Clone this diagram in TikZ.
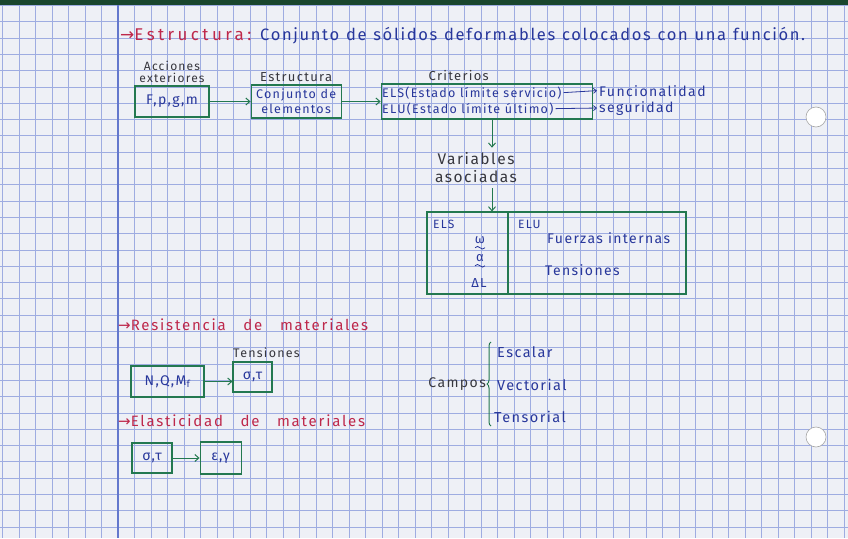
\documentclass[tikz,border=0pt]{standalone}
\usepackage{fontspec}
\setmainfont{Fira Sans}[LetterSpace=10]
\newfontfamily\arrowfont{DejaVu Sans}
\usetikzlibrary{arrows.meta, positioning, decorations.pathreplacing}
\definecolor{paper}{RGB}{238,240,246}
\definecolor{gridline}{RGB}{158,172,225}
\definecolor{margin}{RGB}{100,120,205}
\definecolor{boxgreen}{RGB}{35,120,80}
\definecolor{penblue}{RGB}{40,55,155}
\definecolor{penred}{RGB}{190,40,75}
\definecolor{pencil}{RGB}{55,55,62}
\definecolor{band}{RGB}{25,70,45}
\tikzset{
  box/.style  = {rectangle, draw=boxgreen, line width=1.1pt, text=penblue,
                 align=center, inner sep=1pt, font=\fontsize{14}{15.5}\selectfont},
  flow/.style = {-{Straight Barb[length=4pt,width=7pt]}, draw=boxgreen, line width=1pt},
  tick/.style = {-{Straight Barb[length=3pt,width=5pt]}, draw=penblue, line width=0.8pt},
  lbl/.style  = {text=pencil, align=center, inner sep=0pt, font=\fontsize{12}{12}\selectfont},
  pen/.style  = {text=penblue, align=center, inner sep=0pt, font=\fontsize{14}{15}\selectfont},
  head/.style = {text=penred, inner sep=0pt, font=\fontsize{15}{17}\selectfont\addfontfeature{LetterSpace=12}},
  squig/.style = {draw=penblue, line width=0.8pt},
  hole/.style = {circle, minimum size=20pt, fill=white, draw=black!35, line width=0.6pt},
}
\begin{document}
\begin{tikzpicture}[x=1pt, y=-1pt]
  \fill[paper] (0,0) rectangle (848,538);
  \useasboundingbox (0,0) rectangle (848,538);
  \foreach \gx in {2.5,19,...,848} \draw[gridline, line width=0.7pt] (\gx,0) -- (\gx,538);
  \foreach \gy in {5.4,21.7,...,538} \draw[gridline, line width=0.7pt] (0,\gy) -- (848,\gy);
  \draw[margin, line width=1.2pt] (118,0) -- (118,538);
  \fill[band] (0,0) rectangle (848,5);
  \node[hole] (hole1) at (816,117) {};
  \node[hole] (hole2) at (816,437) {};

  \node[head, font=\fontsize{17}{19}\selectfont\addfontfeature{LetterSpace=20}, anchor=base west] (ttl) at (120,40) {{\arrowfont→}Estructura:};
  \node[pen, font=\fontsize{16.5}{19}\selectfont, anchor=base west] (def) at (260,40)
    {\makebox[545pt][s]{Conjunto de sólidos deformables colocados con una función.}};

  \node[box, minimum width=74pt, minimum height=31pt] (load) at (172,101.5) {F,p,g,m};
  \node[box, font=\fontsize{12.5}{15}\selectfont, minimum width=90pt, minimum height=33pt, right=41pt of load] (struct) {Conjunto de\\elementos};
  \node[box, minimum width=211pt, minimum height=35pt, right=39pt of struct] (crit) {};
  \node[lbl, above=3pt of load] (acc) {Acciones\\exteriores};
  \node[lbl, font=\fontsize{13}{13}\selectfont, above=3pt of struct] (structlbl) {Estructura};
  \node[lbl, font=\fontsize{13}{13}\selectfont, above=3pt of crit, xshift=-28pt] (critlbl) {Criterios};
  \node[pen, font=\fontsize{12.5}{13}\selectfont, anchor=base west] (els) at (382,97) {ELS(Estado límite servicio)};
  \node[pen, font=\fontsize{12.5}{13}\selectfont, anchor=base west] (elu) at (382,113) {ELU(Estado límite último)};
  \node[pen, anchor=base west] (func) at (599,96) {Funcionalidad};
  \node[pen, anchor=base west] (seg) at (599,112) {seguridad};
  \draw[flow] (load) -- (struct);
  \draw[flow] (struct) -- (crit);
  \draw[tick] ([xshift=2pt]els.east) -- ([xshift=-2pt]func.west);
  \draw[tick] ([xshift=2pt]elu.east) -- ([xshift=-2pt]seg.west);

  \coordinate (axis) at (492,0);
  \coordinate (split) at (508,0);
  \node[lbl, font=\fontsize{15.5}{18}\selectfont, inner ysep=5pt] (var) at (476,168) {Variables\\asociadas};
  \node[box, minimum width=259pt, minimum height=82pt] (vars) at (556.5,253) {};
  \draw[flow] (crit.south -| axis) -- (var.north -| axis);
  \draw[flow] (var.south -| axis) -- (vars.north -| axis);
  \draw[boxgreen, line width=1.1pt] (vars.north -| split) -- (vars.south -| split);
  \node[pen, font=\fontsize{12}{12}\selectfont, anchor=north west] (elsc) at (433,220) {ELS};
  \node[pen, font=\fontsize{12}{12}\selectfont, anchor=north west] (eluc) at (518,220) {ELU};
  \node[pen, font=\fontsize{13}{13}\selectfont] (disp) at (480,240) {ω};
  \node[pen, font=\fontsize{13}{13}\selectfont] (rot) at (480,258) {α};
  \node[pen, font=\fontsize{13}{13}\selectfont] (dl) at (479,283) {ΔL};
  \draw[squig] ([xshift=-5pt,yshift=-4pt]disp.south) to[bend left=60] ++(5,0) to[bend right=60] ++(5,0);
  \draw[squig] ([xshift=-5pt,yshift=-4pt]rot.south) to[bend left=60] ++(5,0) to[bend right=60] ++(5,0);
  \node[pen, anchor=base west] (fint) at (547,243) {Fuerzas internas};
  \node[pen, anchor=base west] (tens) at (545,275) {Tensiones};

  \node[head, anchor=base west] (rdm) at (118,330) {\makebox[250pt][s]{{\arrowfont→}Resistencia de materiales}};
  \node[box, minimum width=73pt, minimum height=31pt] (nqm) at (167.5,381.5) {N,Q,M\textsubscript{f}};
  \node[box, minimum width=39pt, minimum height=30pt] (st1) at (252.5,377) {σ,τ};
  \node[lbl, font=\fontsize{12.5}{13}\selectfont, above=4pt of st1, xshift=14pt] (tenslbl) {Tensiones};
  \draw[flow] (nqm.east) -- (nqm.east -| st1.west);

  \node[head, anchor=base west] (edm) at (118,426) {\makebox[247pt][s]{{\arrowfont→}Elasticidad de materiales}};
  \node[box, minimum width=40pt, minimum height=30pt] (st2) at (152,458) {σ,τ};
  \node[box, minimum width=41pt, minimum height=32pt, right=27pt of st2] (eg) {ε,γ};
  \draw[flow] (st2) -- (eg);

  \coordinate (btop) at (491,342);
  \coordinate (bbot) at (491,426);
  \node[lbl, font=\fontsize{14}{14}\selectfont, anchor=east] (camp) at (486,384) {Campos};
  \draw[boxgreen, line width=1pt, decorate, decoration={brace, amplitude=4pt}] (bbot) -- (btop);
  \node[pen, font=\fontsize{14.5}{15}\selectfont, anchor=base west] (esc) at (497,357) {Escalar};
  \node[pen, font=\fontsize{14.5}{15}\selectfont, anchor=base west] (vec) at (497,390) {Vectorial};
  \node[pen, font=\fontsize{14.5}{15}\selectfont, anchor=base west] (tsr) at (494,422) {Tensorial};
\end{tikzpicture}
\end{document}
